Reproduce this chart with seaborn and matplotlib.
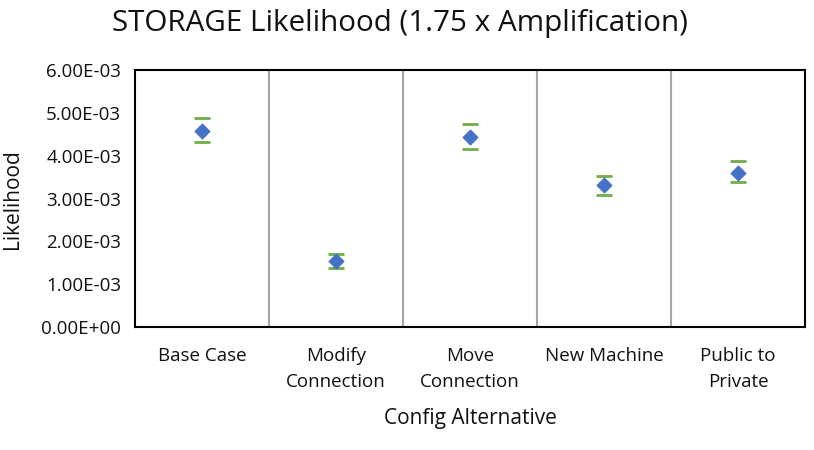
import matplotlib
matplotlib.use("Agg")
import matplotlib.pyplot as plt
import seaborn as sns
import pandas as pd

categories = ["Base Case", "Modify\nConnection", "Move\nConnection", "New Machine", "Public to\nPrivate"]
likelihood = [4.58e-3, 1.54e-3, 4.44e-3, 3.31e-3, 3.61e-3]
upper = [4.89e-3, 1.70e-3, 4.74e-3, 3.54e-3, 3.87e-3]
lower = [4.32e-3, 1.39e-3, 4.16e-3, 3.08e-3, 3.38e-3]

sns.set_style("white")
plt.rcParams["font.family"] = ["Open Sans", "DejaVu Sans"]
plt.rcParams["text.color"] = "#111111"
plt.rcParams["axes.labelcolor"] = "#111111"
plt.rcParams["xtick.color"] = "#111111"
plt.rcParams["ytick.color"] = "#111111"

df = pd.DataFrame({"Config": categories, "Likelihood": likelihood})

fig = plt.figure(figsize=(8.14, 4.5), dpi=100)
ax = fig.add_axes([0.166, 0.273, 0.823, 0.571])

# error bars: caps only, like the excel chart
err = [[m - lo for m, lo in zip(likelihood, lower)],
       [up - m for m, up in zip(likelihood, upper)]]
ax.errorbar(range(len(categories)), likelihood, yerr=err, fmt="none",
            ecolor="#70AD47", elinewidth=0, capsize=6, capthick=2, zorder=2)
sns.scatterplot(data=df, x="Config", y="Likelihood", marker="D", s=60,
                color="#4472C4", edgecolor="#4472C4", ax=ax, zorder=3)

# separators between categories
for i in range(len(categories) - 1):
    ax.axvline(i + 0.5, color="#A6A6A6", linewidth=1.5, zorder=1)

ax.set_xlim(-0.5, len(categories) - 0.5)
ax.set_ylim(0, 6e-3)
ax.set_yticks([i * 1e-3 for i in range(7)])
ax.set_yticklabels([f"{i:.2f}E-03" if i else "0.00E+00" for i in range(7)])
ax.tick_params(axis="y", length=0, labelsize=13.5, pad=10)
ax.tick_params(axis="x", length=0, labelsize=13.5, pad=14)
for lbl in ax.get_xticklabels():
    lbl.set_linespacing(1.6)
for s in ax.spines.values():
    s.set_color("black")
    s.set_linewidth(1.5)

fig.text(400 / 814, 1 - 23 / 450, "STORAGE Likelihood (1.75 x Amplification)",
         fontsize=21.3, ha="center", va="center")
ax.set_ylabel("Likelihood", fontsize=15)
ax.yaxis.set_label_coords(-0.167, 0.5)
ax.set_xlabel("Config Alternative", fontsize=15)
ax.xaxis.set_label_coords(0.5, -0.315)

fig.savefig("out.png", dpi=100)
